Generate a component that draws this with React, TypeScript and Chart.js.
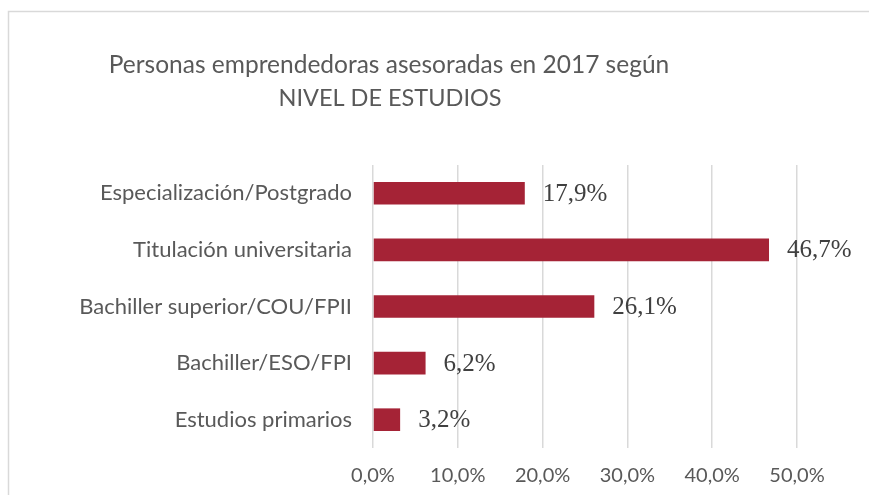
import { useEffect, useRef } from "react";
import { Chart, registerables } from "chart.js";
Chart.register(...registerables);

const categories = [
  "Especialización/Postgrado",
  "Titulación universitaria",
  "Bachiller superior/COU/FPII",
  "Bachiller/ESO/FPI",
  "Estudios primarios",
];
const values = [17.9, 46.7, 26.1, 6.2, 3.2];
const titleLines = ["Personas emprendedoras asesoradas en 2017 según", "NIVEL DE ESTUDIOS"];
const xMin = 0;
const xMax = 50;
const xStep = 10;

const fmt = (v: number) => v.toFixed(1).replace(".", ",") + "%";

export default function App() {
  const ref = useRef<HTMLCanvasElement | null>(null);
  useEffect(() => {
    if (!ref.current) return;
    const framePlugin = {
      id: "frame",
      beforeDraw(chart: any) {
        const ctx = chart.ctx;
        ctx.save();
        ctx.fillStyle = "#ffffff";
        ctx.fillRect(0, 0, chart.width, chart.height);
        ctx.strokeStyle = "#d9d9d9";
        ctx.lineWidth = 1.5;
        ctx.beginPath();
        ctx.moveTo(8.5, chart.height);
        ctx.lineTo(8.5, 11.5);
        ctx.lineTo(chart.width, 11.5);
        ctx.stroke();
        ctx.restore();
      },
    };
    const titlePlugin = {
      id: "customTitle",
      afterDraw(chart: any) {
        const ctx = chart.ctx;
        ctx.save();
        ctx.fillStyle = "#595959";
        ctx.textAlign = "center";
        ctx.textBaseline = "alphabetic";
        ctx.font = '24.5px Lato';
        ctx.fillText(titleLines[0], 389, 73);
        ctx.font = '23.5px Lato';
        ctx.fillText(titleLines[1], 390, 106);
        ctx.restore();
      },
    };
    const labelPlugin = {
      id: "valueLabels",
      afterDatasetsDraw(chart: any) {
        const ctx = chart.ctx;
        const meta = chart.getDatasetMeta(0);
        ctx.save();
        ctx.fillStyle = "#404040";
        ctx.font = '25px "Liberation Serif"';
        ctx.textAlign = "left";
        ctx.textBaseline = "middle";
        meta.data.forEach((el: any, i: number) => {
          ctx.fillText(fmt(values[i]), el.x + 18, el.y + 1);
        });
        ctx.restore();
      },
    };
    const chart = new Chart(ref.current, {
      type: "bar",
      data: {
        labels: categories,
        datasets: [
          {
            data: values,
            backgroundColor: "#A52336",
            borderWidth: 0,
            categoryPercentage: 1,
            barPercentage: 0.4,
          },
        ],
      },
      options: {
        indexAxis: "y",
        responsive: false,
        animation: false,
        layout: { padding: { top: 165, right: 72, left: 0, bottom: 0 } },
        plugins: { legend: { display: false }, tooltip: { enabled: false }, title: { display: false } },
        scales: {
          x: {
            min: xMin,
            max: xMax,
            ticks: {
              stepSize: xStep,
              callback: (v: any) => fmt(Number(v)),
              color: "#595959",
              font: { family: "Lato", size: 20 },
              padding: 16,
              maxRotation: 0,
            },
            grid: { color: "#d9d9d9", lineWidth: 1.5, drawTicks: false },
            border: { display: false },
            afterFit(scale: any) {
              scale.height = 47;
            },
          },
          y: {
            ticks: {
              color: "#595959",
              font: { family: "Lato", size: 22 },
              padding: 21,
            },
            grid: { display: false, drawTicks: false },
            border: { display: false },
            afterFit(scale: any) {
              scale.width = 373;
            },
          },
        },
      },
      plugins: [framePlugin, titlePlugin, labelPlugin],
    } as any);
    return () => chart.destroy();
  }, []);
  return (
    <div style={{ position: "absolute", left: 0, top: 0, width: 869, height: 495 }}>
      <canvas ref={ref} width={869} height={495} style={{ display: "block" }} />
    </div>
  );
}
